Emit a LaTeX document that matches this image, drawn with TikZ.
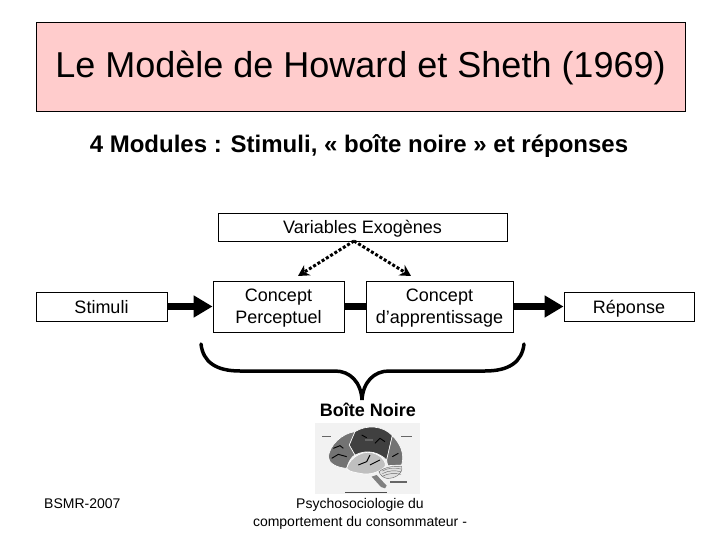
\documentclass[tikz,border=0pt]{standalone}
\usepackage{fontspec}
\setmainfont{Liberation Sans}
\usetikzlibrary{arrows.meta}
\definecolor{titlepink}{HTML}{FFCCCC}
\tikzset{
    modbox/.style={draw=black,fill=white,line width=0.8pt,align=center,inner sep=0pt,text depth=0pt,font=\fontsize{18}{22}\selectfont},
    thickline/.style={line width=7pt},
    thickarrow/.style={line width=7pt,-{Triangle[length=19pt,width=21pt]}},
    dotarrow/.style={line width=3pt,dotted,-{Stealth[length=11pt,width=12pt]}},
    plaintext/.style={inner sep=0pt,align=center}
}
\begin{document}
\begin{tikzpicture}[x=1pt,y=-1pt]
                \useasboundingbox (0,0) rectangle (720,540);
                \fill[white] (0,0) rectangle (720,540);
                \node[draw=black,fill=titlepink,line width=0.8pt,minimum width=649pt,minimum height=89pt,inner sep=0pt] (title) at (360.5,66.5) {};
                \node[plaintext,font=\fontsize{36}{42}\selectfont] (titletext) at (360.5,68) {Le Modèle de Howard et Sheth (1969)};
                \node[plaintext,font=\bfseries\fontsize{24}{28}\selectfont] (modules) at (359,146) {4 Modules : Stimuli, « boîte noire » et réponses};
                \node[modbox,minimum width=289pt,minimum height=28pt] (exogenes) at (362.5,227) {Variables Exogènes};
                \node[modbox,minimum width=131pt,minimum height=29pt] (stimuli) at (101.5,306.5) {Stimuli};
                \node[modbox,minimum width=131pt,minimum height=51pt] (perceptuel) at (278.5,306.5) {Concept\\Perceptuel};
                \node[modbox,minimum width=147pt,minimum height=51pt] (apprentissage) at (439.5,306.5) {Concept\\d’apprentissage};
                \node[modbox,minimum width=130pt,minimum height=29pt] (reponse) at (629,306.5) {Réponse};
                \coordinate (source) at (354,241);
                \coordinate (leftend) at (298,276);
                \coordinate (rightend) at (411,276);
                \draw[dotarrow] (source) -- (leftend);
                \draw[dotarrow] (source) -- (rightend);
                \draw[thickarrow] (stimuli) -- (perceptuel);
                \draw[thickline] (perceptuel) -- (apprentissage);
                \draw[thickarrow] (apprentissage) -- (reponse);
                \draw[line width=3.5pt,line cap=round] (201,344) .. controls (203,362) and (216,371) .. (240,371) -- (335,371) .. controls (350,371) and (361,382) .. (362,400) .. controls (363,382) and (374,371) .. (389,371) -- (485,371) .. controls (509,371) and (522,362) .. (524,344);
                \node[plaintext,font=\bfseries\fontsize{18}{22}\selectfont] (boite) at (368,410) {Boîte Noire};
                % brain picture
                \begin{scope}[shift={(305,415)},x=0.3333pt,y=-0.3333pt]
                    \fill[black!5] (30,25) rectangle (345,238);
                    \fill[black!50] (215,180) -- (245,212) -- (240,220) -- (228,216) -- (200,185) -- cycle;
                    \fill[black!55,draw=white,line width=0.6pt] (150,50) .. controls (110,55) and (75,90) .. (70,125) .. controls (70,145) and (95,158) .. (125,160) .. controls (130,140) and (140,125) .. (150,120) -- (133,90) -- cycle;
                    \fill[black!75,draw=white,line width=0.6pt] (150,50) .. controls (185,28) and (235,32) .. (262,62) -- (245,135) .. controls (225,115) and (190,100) .. (150,120) -- (133,90) -- cycle;
                    \fill[black!55,draw=white,line width=0.6pt] (262,62) .. controls (285,85) and (300,115) .. (290,150) -- (248,152) -- (245,135) -- cycle;
                    \fill[black!25,draw=white,line width=0.6pt] (125,160) .. controls (135,125) and (180,100) .. (215,118) .. controls (235,128) and (245,145) .. (240,155) .. controls (225,170) and (195,182) .. (165,175) .. controls (150,172) and (130,170) .. (125,160) -- cycle;
                    \fill[black!12,draw=black!60,line width=0.4pt] (222,170) .. controls (240,155) and (270,152) .. (290,155) .. controls (295,175) and (270,192) .. (245,190) .. controls (235,188) and (225,180) .. (222,170) -- cycle;
                    \foreach \y in {162,170,178} {
                        \draw[black!60,line width=0.4pt] (232,\y+6) .. controls (250,\y-4) and (270,\y-4) .. (288,\y);
                    }
                    \draw[black,line width=0.9pt] (85,100) -- (105,92) -- (115,100);
                    \draw[black,line width=0.9pt] (80,130) -- (100,118) -- (125,125);
                    \draw[black,line width=0.9pt] (170,60) -- (185,68);
                    \draw[black,line width=0.9pt] (210,85) -- (225,70) -- (240,80);
                    \draw[black,line width=0.9pt] (160,150) -- (185,140) -- (195,120);
                    \draw[black,line width=0.9pt] (195,150) -- (225,135);
                    \draw[black,line width=0.9pt] (262,125) -- (280,115);
                    \fill[black!60] (180,73) rectangle (205,77);
                    \fill[black!60] (50,63) rectangle (78,67);
                    \fill[black!60] (288,63) rectangle (320,67);
                    \fill[black!70] (120,231) rectangle (245,235);
                    \fill[black!60] (255,199) rectangle (305,203);
                \end{scope}
                \node[plaintext,font=\fontsize{14}{18}\selectfont,anchor=west] (bsmr) at (44,504) {BSMR-2007};
                \node[plaintext,font=\fontsize{14}{18}\selectfont] (footer) at (360,514) {Psychosociologie du\\comportement du consommateur -};
\end{tikzpicture}
\end{document}
